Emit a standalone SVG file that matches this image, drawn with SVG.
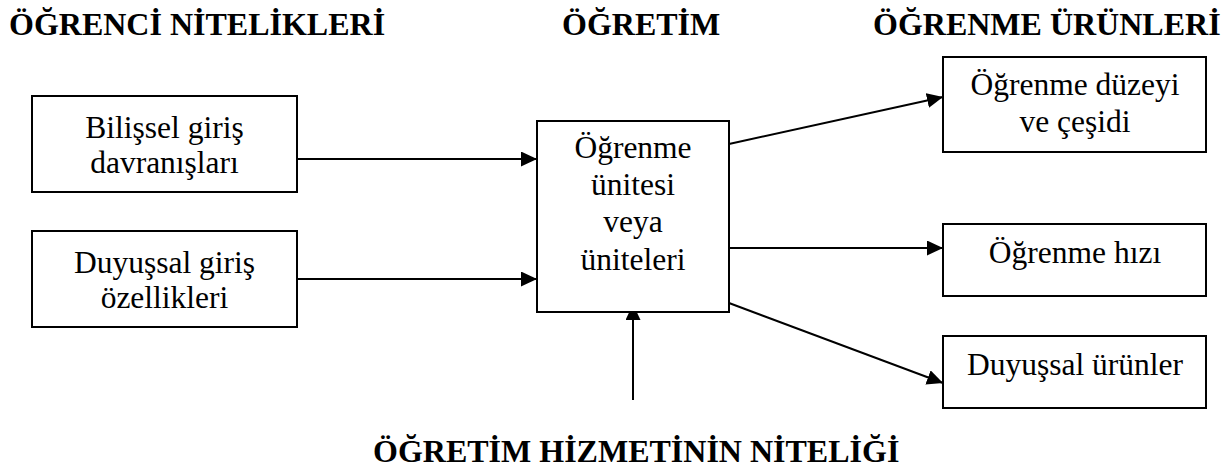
<svg xmlns="http://www.w3.org/2000/svg" width="1226" height="468" viewBox="0 0 1226 468" font-family="Liberation Serif, Times New Roman, DejaVu Serif, serif">
  <style>
    .box { fill: #ffffff; stroke: #000000; stroke-width: 2; }
    .lbl { font-family: 'Liberation Serif', 'Times New Roman', 'DejaVu Serif', serif; font-size: 31.5px; fill: #000000; text-anchor: middle; }
    .head { font-family: 'Liberation Serif', 'Times New Roman', 'DejaVu Serif', serif; font-size: 32px; font-weight: bold; fill: #000000; }
    .conn { stroke: #000000; stroke-width: 2; fill: none; marker-end: url(#arrow); }
  </style>
  <defs>
    <marker id="arrow" markerUnits="userSpaceOnUse" markerWidth="18" markerHeight="16" refX="16" refY="7.5" orient="auto">
      <path d="M0,0 L16,7.5 L0,15 Z" fill="#000000"/>
    </marker>
  </defs>
  <rect width="1226" height="468" fill="#ffffff"/>

  <!-- column headings -->
  <g id="headings">
    <text class="head" x="9" y="35">ÖĞRENCİ NİTELİKLERİ</text>
    <text class="head" x="562" y="35">ÖĞRETİM</text>
    <text class="head" x="873" y="35">ÖĞRENME ÜRÜNLERİ</text>
    <text class="head" x="373" y="462">ÖĞRETİM HİZMETİNİN NİTELİĞİ</text>
  </g>

  <!-- connectors -->
  <g id="connectors">
    <line class="conn" x1="297" y1="159" x2="537" y2="159"/>
    <line class="conn" x1="297" y1="279" x2="537" y2="279"/>
    <line class="conn" x1="729" y1="144" x2="943" y2="97"/>
    <line class="conn" x1="729" y1="248" x2="943" y2="248"/>
    <line class="conn" x1="729" y1="303" x2="943" y2="383"/>
    <line class="conn" x1="633" y1="400" x2="633" y2="304"/>
  </g>

  <g id="bilissel">
    <rect class="box" x="32" y="96" width="265" height="96"/>
    <text class="lbl" x="164.5" y="138">Bilişsel giriş</text>
    <text class="lbl" x="164.5" y="173">davranışları</text>
  </g>

  <g id="duyussal-giris">
    <rect class="box" x="32" y="231" width="265" height="96"/>
    <text class="lbl" x="164.5" y="273">Duyuşsal giriş</text>
    <text class="lbl" x="164.5" y="308">özellikleri</text>
  </g>

  <g id="unite">
    <rect class="box" x="537" y="121" width="192" height="191"/>
    <text class="lbl" x="633" y="158">Öğrenme</text>
    <text class="lbl" x="633" y="195">ünitesi</text>
    <text class="lbl" x="633" y="232">veya</text>
    <text class="lbl" x="633" y="270">üniteleri</text>
  </g>

  <g id="duzey">
    <rect class="box" x="943" y="57" width="263" height="95"/>
    <text class="lbl" x="1075" y="95">Öğrenme düzeyi</text>
    <text class="lbl" x="1075" y="132">ve çeşidi</text>
  </g>

  <g id="hiz">
    <rect class="box" x="943" y="224" width="263" height="72"/>
    <text class="lbl" x="1075" y="263">Öğrenme hızı</text>
  </g>

  <g id="duyussal-urunler">
    <rect class="box" x="943" y="336" width="263" height="72"/>
    <text class="lbl" x="1075" y="375">Duyuşsal ürünler</text>
  </g>
</svg>
